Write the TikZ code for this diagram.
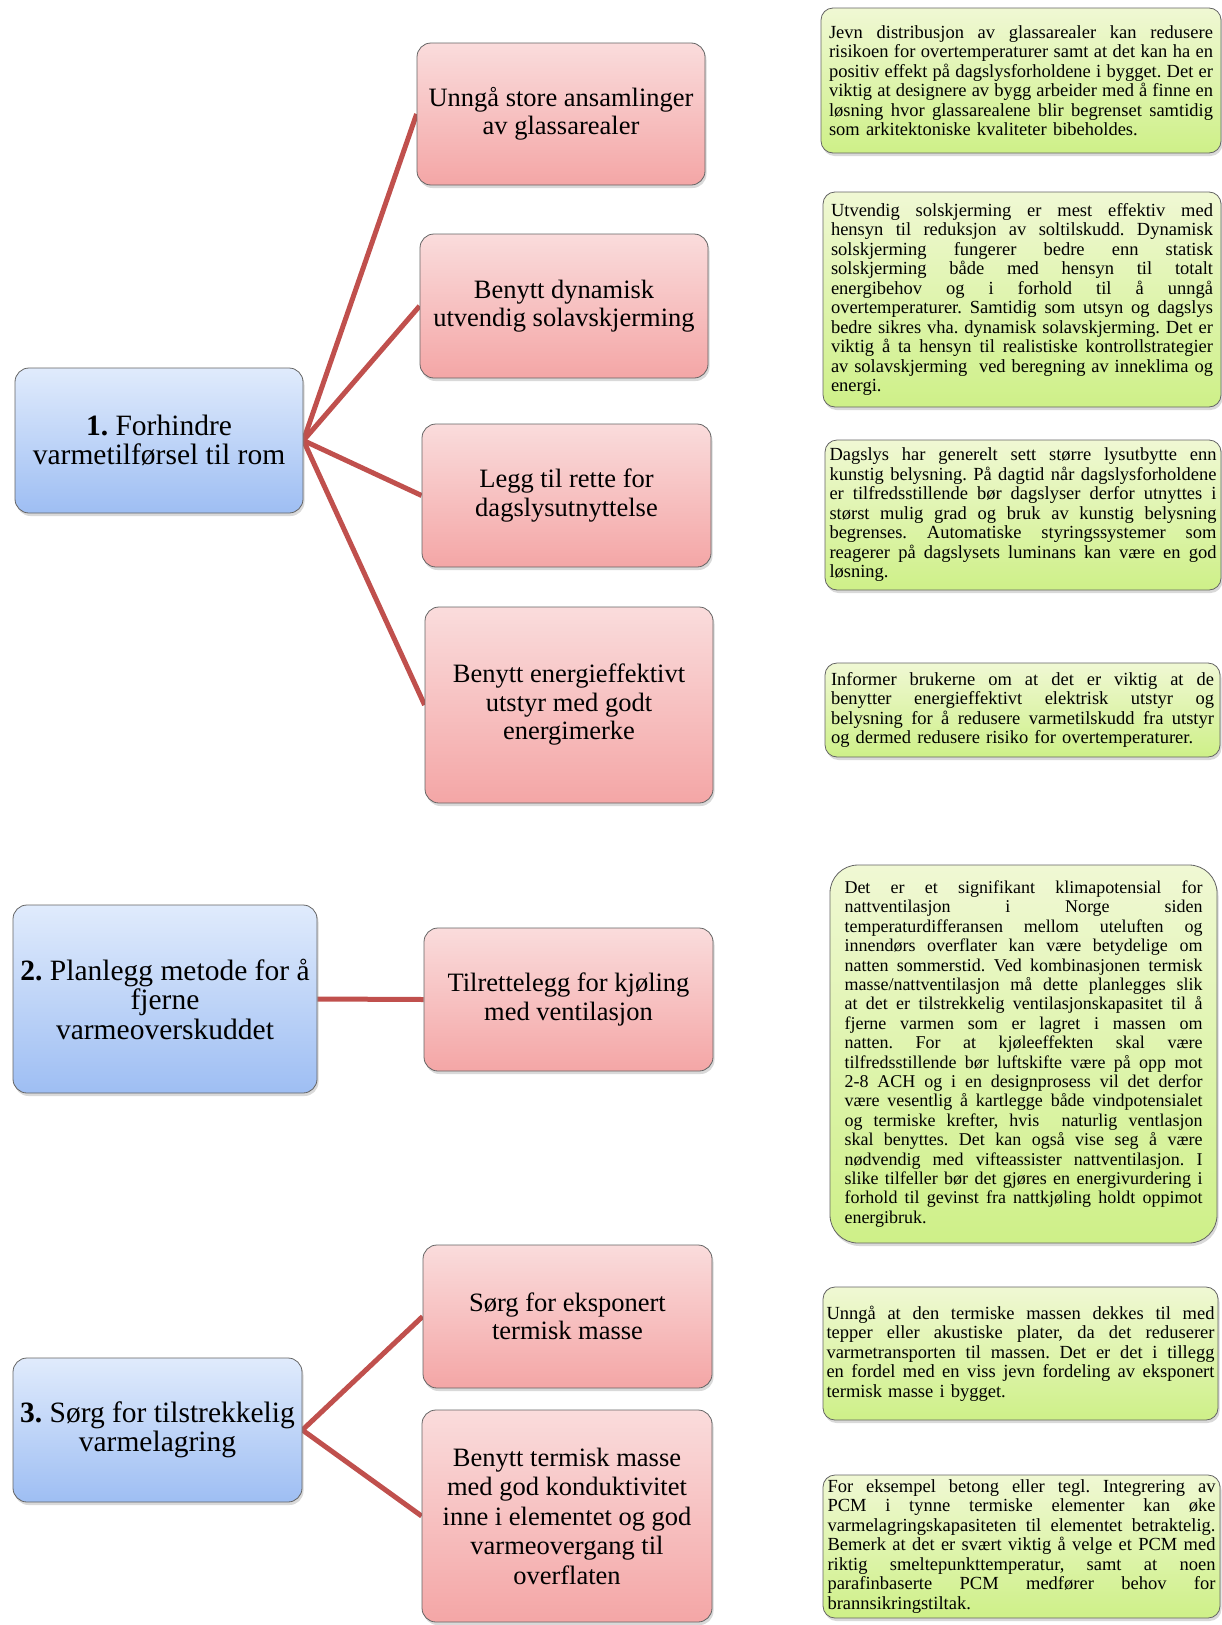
\documentclass[tikz,border=0pt]{standalone}
\usepackage{fontspec}
\setmainfont{Liberation Serif}
\usetikzlibrary{shadows}
\definecolor{linkred}{RGB}{192,80,77}
\definecolor{redtop}{RGB}{250,220,220}
\definecolor{redbot}{RGB}{244,166,166}
\definecolor{bluetop}{RGB}{224,235,252}
\definecolor{bluebot}{RGB}{158,190,243}
\definecolor{greentop}{RGB}{240,248,212}
\definecolor{greenbot}{RGB}{206,240,136}
\definecolor{edgegray}{RGB}{100,100,100}
\newcommand\jl[1]{\hbox to\hsize{\spaceskip=.25em plus 1fil minus .12em\relax #1}}
\newcommand\lastln[1]{\hbox to\hsize{#1\hfill}}
\lineskiplimit=-20pt
\frenchspacing
\pgfdeclarelayer{background}
\pgfsetlayers{background,main}
\tikzset{
  boxbase/.style={rectangle, rounded corners=14pt, draw=edgegray, line width=0.8pt, inner sep=0pt,
    drop shadow={shadow xshift=1.5pt, shadow yshift=-3pt, opacity=0.3}},
  redbox/.style={boxbase, top color=redtop, bottom color=redbot, align=center,
    font=\fontsize{26.5}{28.5}\selectfont},
  bluebox/.style={boxbase, top color=bluetop, bottom color=bluebot, align=center,
    font=\fontsize{29.5}{29.5}\selectfont},
  greenbox/.style={boxbase, rounded corners=12pt, top color=greentop, bottom color=greenbot,
    font=\fontsize{18.5}{19.5}\selectfont},
  link/.style={draw=linkred, line width=5pt}
}
\begin{document}
\begin{tikzpicture}[x=1pt,y=-1pt]
\useasboundingbox (0,0) rectangle (1222,1625);

% left blue boxes
\node[bluebox, minimum width=288pt, minimum height=145pt] (b1) at (159,440.5)
  {\textbf{1.} Forhindre\\varmetilførsel til rom};
\node[bluebox, minimum width=304pt, minimum height=188pt] (b2) at (165,999)
  {\textbf{2.} Planlegg metode for å\\fjerne\\varmeoverskuddet};
\node[bluebox, minimum width=289pt, minimum height=144pt] (b3) at (157.5,1430)
  {\textbf{3.} Sørg for tilstrekkelig\\varmelagring};

% middle red boxes
\node[redbox, minimum width=288pt, minimum height=142pt] (r1) at (561,114)
  {Unngå store ansamlinger\\av glassarealer};
\node[redbox, minimum width=288pt, minimum height=144pt] (r2) at (564,306)
  {Benytt dynamisk\\utvendig solavskjerming};
\node[redbox, minimum width=289pt, minimum height=143pt] (r3) at (566.5,495.5)
  {Legg til rette for\\dagslysutnyttelse};
\node[redbox, minimum width=288pt, minimum height=196pt] (r4) at (569,705)
  {Benytt energieffektivt\\utstyr med godt\\energimerke};
\node[redbox, minimum width=289pt, minimum height=143pt] (r5) at (568.5,999.5)
  {Tilrettelegg for kjøling\\med ventilasjon};
\node[redbox, minimum width=289pt, minimum height=143pt] (r6) at (567.5,1316.5)
  {Sørg for eksponert\\termisk masse};
\node[redbox, minimum width=290pt, minimum height=212pt, font=\fontsize{26.5}{29.5}\selectfont] (r7) at (567,1516)
  {Benytt termisk masse\\med god konduktivitet\\inne i elementet og god\\varmeovergang til\\overflaten};

% right green boxes
\node[greenbox, text width=384pt, minimum width=400pt, minimum height=145pt] (g1) at (1021,80.5) {%
\jl{Jevn distribusjon av glassarealer kan redusere}
\jl{risikoen for overtemperaturer samt at det kan ha en}
\jl{positiv effekt på dagslysforholdene i bygget. Det er}
\jl{viktig at designere av bygg arbeider med å finne en}
\jl{løsning hvor glassarealene blir begrenset samtidig}
\lastln{som arkitektoniske kvaliteter bibeholdes.}};

\node[greenbox, text width=382pt, minimum width=398pt, minimum height=215pt] (g2) at (1022,299.5) {%
\jl{Utvendig solskjerming er mest effektiv med}
\jl{hensyn til reduksjon av soltilskudd. Dynamisk}
\jl{solskjerming fungerer bedre enn statisk}
\jl{solskjerming både med hensyn til totalt}
\jl{energibehov og i forhold til å unngå}
\jl{overtemperaturer. Samtidig som utsyn og dagslys}
\jl{bedre sikres vha. dynamisk solavskjerming. Det er}
\jl{viktig å ta hensyn til realistiske kontrollstrategier}
\jl{av solavskjerming\ \ ved beregning av inneklima og}
\lastln{energi.}};

\node[greenbox, text width=387pt, minimum width=396pt, minimum height=150pt] (g3) at (1023,515) {%
\jl{Dagslys har generelt sett større lysutbytte enn}
\jl{kunstig belysning. På dagtid når dagslysforholdene}
\jl{er tilfredsstillende bør dagslyser derfor utnyttes i}
\jl{størst mulig grad og bruk av kunstig belysning}
\jl{begrenses. Automatiske styringssystemer som}
\jl{reagerer på dagslysets luminans kan være en god}
\lastln{løsning.}};

\node[greenbox, text width=383pt, minimum width=395pt, minimum height=94pt] (g4) at (1022.5,710) {%
\jl{Informer brukerne om at det er viktig at de}
\jl{benytter energieffektivt elektrisk utstyr og}
\jl{belysning for å redusere varmetilskudd fra utstyr}
\lastln{og dermed redusere risiko for overtemperaturer.}};

\node[greenbox, rounded corners=28pt, text width=358pt, minimum width=387pt, minimum height=378pt,
  font=\fontsize{18}{19.4}\selectfont] (g5) at (1023.5,1054) {%
\jl{Det er et signifikant klimapotensial for}
\jl{nattventilasjon i Norge siden}
\jl{temperaturdifferansen mellom uteluften og}
\jl{innendørs overflater kan være betydelige om}
\jl{natten sommerstid. Ved kombinasjonen termisk}
\jl{masse/nattventilasjon må dette planlegges slik}
\jl{at det er tilstrekkelig ventilasjonskapasitet til å}
\jl{fjerne varmen som er lagret i massen om}
\jl{natten. For at kjøleeffekten skal være}
\jl{tilfredsstillende bør luftskifte være på opp mot}
\jl{2-8 ACH og i en designprosess vil det derfor}
\jl{være vesentlig å kartlegge både vindpotensialet}
\jl{og termiske krefter, hvis\ \ naturlig ventlasjon}
\jl{skal benyttes. Det kan også vise seg å være}
\jl{nødvendig med vifteassister nattventilasjon. I}
\jl{slike tilfeller bør det gjøres en energivurdering i}
\jl{forhold til gevinst fra nattkjøling holdt oppimot}
\lastln{energibruk.}};

\node[greenbox, text width=388pt, minimum width=395pt, minimum height=133pt] (g6) at (1020.5,1353.5) {%
\jl{Unngå at den termiske massen dekkes til med}
\jl{tepper eller akustiske plater, da det reduserer}
\jl{varmetransporten til massen. Det er det i tillegg}
\jl{en fordel med en viss jevn fordeling av eksponert}
\lastln{termisk masse i bygget.}};

\node[greenbox, text width=388pt, minimum width=397pt, minimum height=143pt] (g7) at (1021.5,1546.5) {%
\jl{For eksempel betong eller tegl. Integrering av}
\jl{PCM i tynne termiske elementer kan øke}
\jl{varmelagringskapasiteten til elementet betraktelig.}
\jl{Bemerk at det er svært viktig å velge et PCM med}
\jl{riktig smeltepunkttemperatur, samt at noen}
\jl{parafinbaserte PCM medfører behov for}
\lastln{brannsikringstiltak.}};

% connectors
\begin{pgfonlayer}{background}
\draw[link] (b1.east) -- (r1.west);
\draw[link] (b1.east) -- (r2.west);
\draw[link] (b1.east) -- (r3.west);
\draw[link] (b1.east) -- (r4.west);
\draw[link] (b2.east) -- (r5.west);
\draw[link] (b3.east) -- (r6.west);
\draw[link] (b3.east) -- (r7.west);
\end{pgfonlayer}
\end{tikzpicture}
\end{document}
